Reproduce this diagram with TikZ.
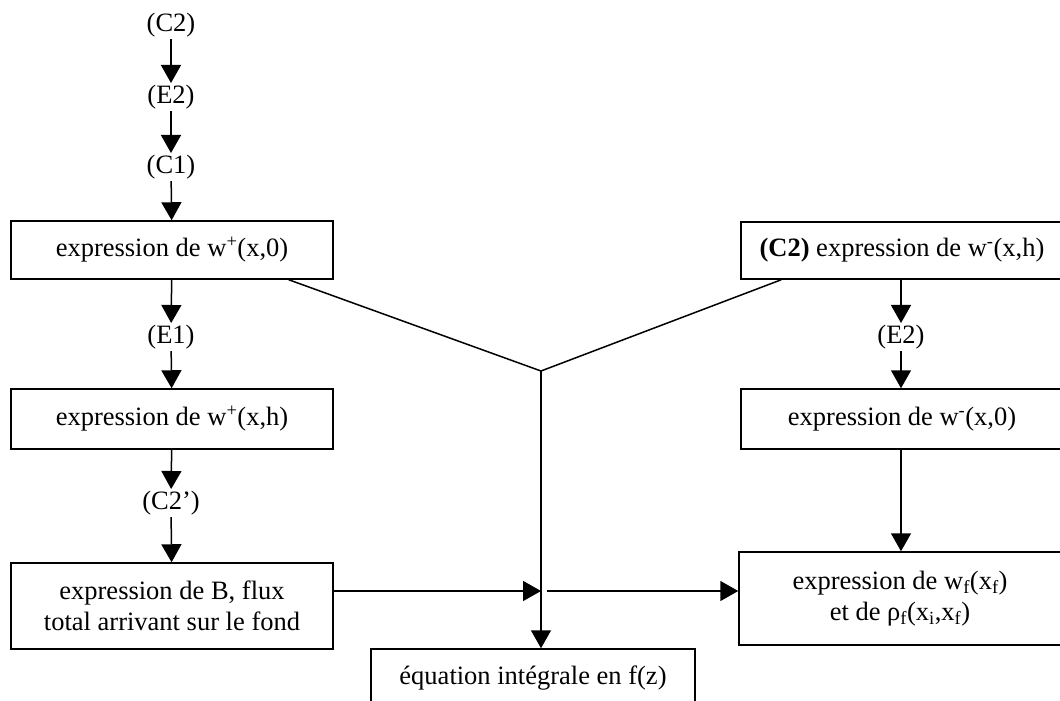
\documentclass[tikz,border=0pt]{standalone}
\usepackage{fontspec}
\setmainfont{Liberation Serif}
\usetikzlibrary{arrows.meta,calc}
\begin{document}
\begin{tikzpicture}[x=1pt,y=-1pt,
  every node/.style={font=\fontsize{26.5}{31}\selectfont},
  box/.style={draw,line width=1.5pt,rectangle,inner sep=0pt,minimum width=322pt,align=center},
  lbl/.style={inner sep=0pt,minimum height=24pt,outer sep=2pt},
  arr/.style={line width=1.5pt,-{Triangle[length=18pt,width=20pt]}},
  ln/.style={line width=1.5pt}]
\clip (0,0) rectangle (1060,701);
\useasboundingbox (0,0) rectangle (1060,701);
% left column
\node[lbl] (c2) at (171,25) {(C2)};
\node[lbl] (e2) at (171,97) {(E2)};
\node[lbl] (c1) at (171,167) {(C1)};
\node[box,minimum height=58pt] (b1) at (172,250) {expression de w\textsuperscript{+}(x,0)};
\node[lbl] (e1) at (171,337) {(E1)};
\node[box,minimum height=60pt] (b2) at (172,419) {expression de w\textsuperscript{+}(x,h)};
\node[lbl] (c2p) at (171,503) {(C2’)};
\node[box,minimum height=86pt] (b3) at (172,606) {expression de B, flux\\total arrivant sur le fond};
% right column
\node[box,minimum height=57pt] (r1) at (902,250.5) {\textbf{(C2)} expression de w\textsuperscript{-}(x,h)};
\node[lbl] (re2) at (901,337) {(E2)};
\node[box,minimum height=60pt] (r2) at (902,419) {expression de w\textsuperscript{-}(x,0)};
\node[box,minimum height=93pt] (r3) at (900,598.5) {expression de w\textsubscript{f}(x\textsubscript{f})\\et de ρ\textsubscript{f}(x\textsubscript{i},x\textsubscript{f})};
% bottom
\node[box,minimum width=324pt,minimum height=58pt] (bot) at (533,678) {équation intégrale en f(z)};
% connectors
\draw[arr] (c2) -- (e2);
\draw[arr] (e2) -- (c1);
\draw[arr] (c1) -- (b1);
\draw[arr] (b1) -- (e1);
\draw[arr] (e1) -- (b2);
\draw[arr] (b2) -- (c2p);
\draw[arr] (c2p) -- (b3);
\draw[arr] (r1.south -| re2) -- (re2);
\draw[arr] (re2) -- (r2.north -| re2);
\draw[arr] (r2.south -| re2) -- (r3.north -| re2);
\coordinate (J) at (541,371);
\coordinate (M) at (541,591);
\draw[ln] ([xshift=-45pt]b1.south east) -- (J);
\draw[ln] ([xshift=41pt]r1.south west) -- (J);
\draw[arr] (J) -- (J |- bot.north);
\draw[arr] ([yshift=15pt]b3.east) -- (M);
\draw[arr] ([xshift=6pt]M) -- (r3.west |- M);
\end{tikzpicture}
\end{document}
